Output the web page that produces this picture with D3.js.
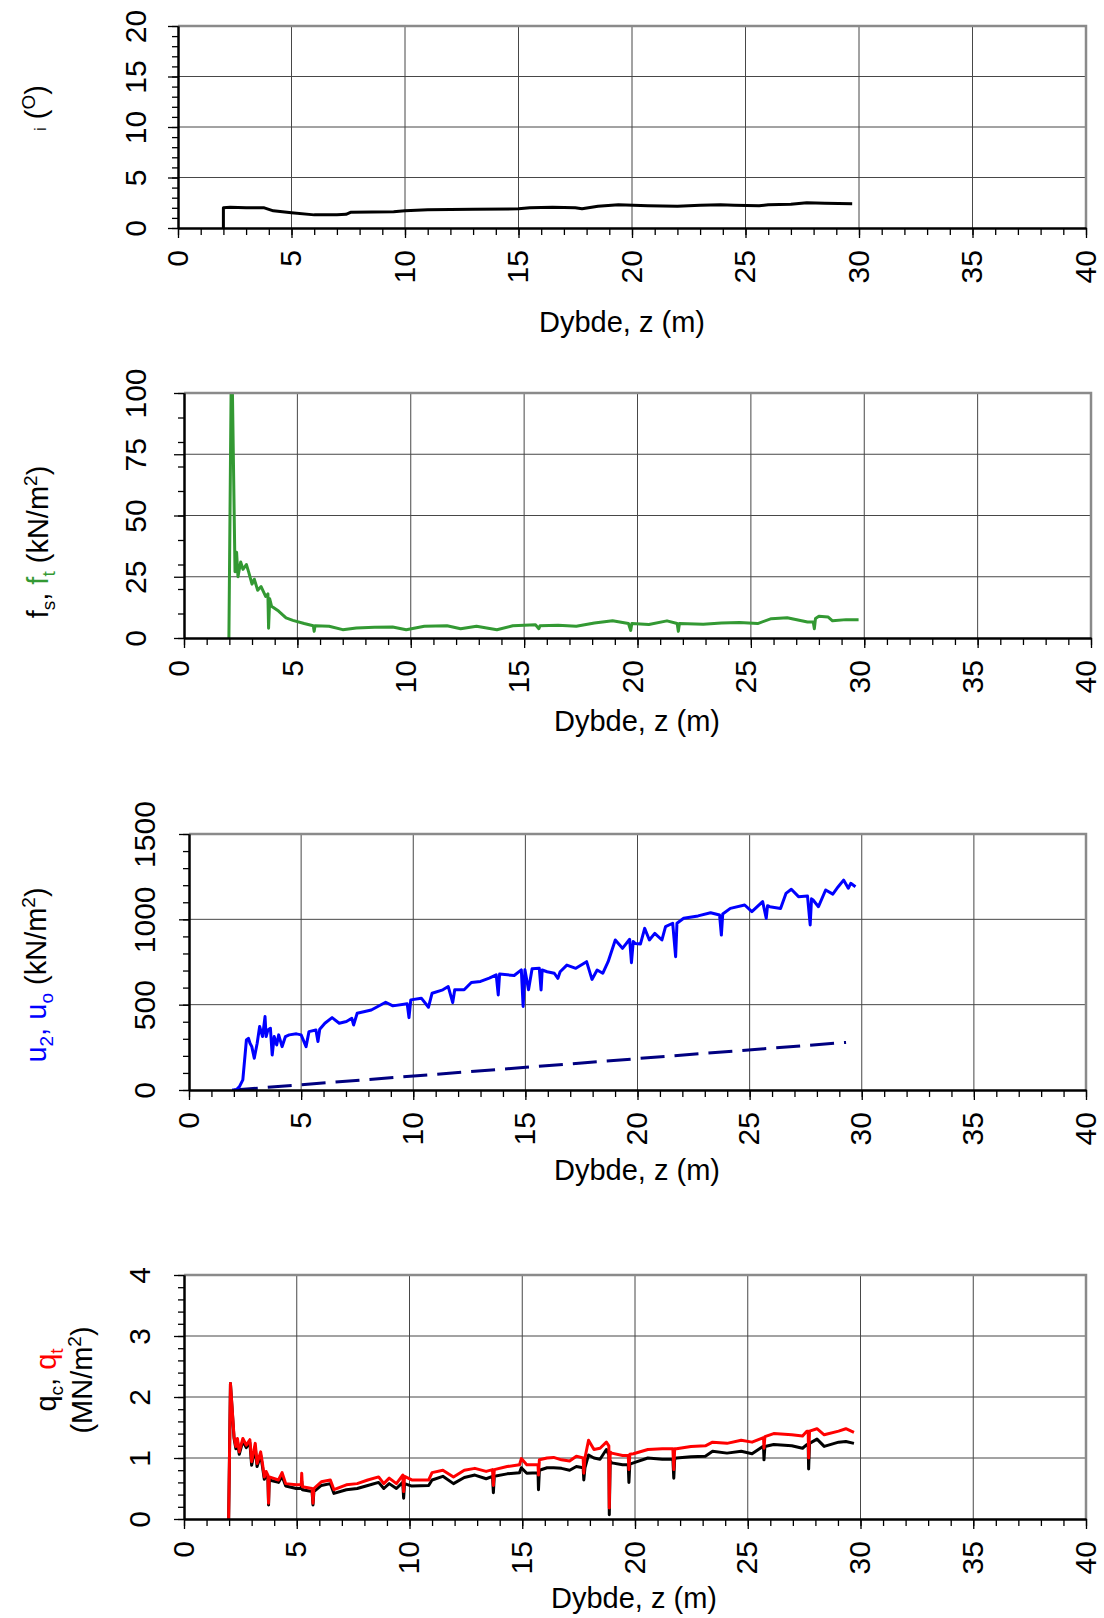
<!DOCTYPE html>
<meta charset="utf-8">
<html>
<script src="https://d3js.org/d3.v7.min.js"></script>
<style>
  body { margin: 0; background: #fff; }
  svg text { font-family: "Liberation Sans", Arial, sans-serif; fill: #000; }
</style>
<body>
<svg id="cpt" width="1104" height="1618"></svg>

<script>
const depthMajor = [0, 5, 10, 15, 20, 25, 30, 35, 40];
const depthMinor = d3.range(0, 41, 1);

// inclination i (deg)
const incDepth = [2.0, 2.0, 2.3, 3.0, 3.8, 4.2, 5.0, 6.0, 7.0, 7.4, 7.6, 9.5, 10.0, 11.0, 13.0, 15.0, 15.5, 16.5, 17.5, 17.8, 18.5, 19.4, 20.7, 22.0, 23.0, 23.9, 24.5, 25.6, 26.0, 27.0, 27.7, 28.5, 29.7];
const incVal   = [0, 2.0, 2.05, 2.0, 2.0, 1.7, 1.5, 1.3, 1.3, 1.35, 1.55, 1.6, 1.7, 1.8, 1.85, 1.9, 2.0, 2.05, 2.0, 1.9, 2.15, 2.3, 2.2, 2.15, 2.25, 2.3, 2.25, 2.2, 2.3, 2.35, 2.5, 2.45, 2.4];

// sleeve friction ft (kN/m2)
const ftDepth = [1.98, 2.08, 2.13, 2.25, 2.32, 2.38, 2.5, 2.6, 2.75, 2.85, 3.0, 3.1, 3.25, 3.4, 3.6, 3.7, 3.73, 3.78, 3.86, 4.17, 4.5, 4.8, 5.3, 5.7, 5.74, 5.78, 6.4, 7.0, 7.6, 8.4, 9.2, 9.8, 10.6, 11.6, 12.2, 12.9, 13.8, 14.5, 15.5, 15.65, 15.7, 16.5, 17.3, 18.1, 18.9, 19.6, 19.7, 19.75, 20.5, 21.3, 21.75, 21.8, 21.85, 22.9, 23.7, 24.5, 25.3, 25.9, 26.6, 27.5, 27.75, 27.8, 27.85, 28.0, 28.4, 28.6, 29.2, 29.75];
const ftVal   = [0, 104, 104, 27, 35, 25, 31, 28, 30, 27, 22, 24, 19.5, 21, 17, 18, 4, 16, 13, 11, 8.2, 7.2, 5.9, 5, 2.7, 5, 4.8, 3.4, 4.1, 4.4, 4.5, 3.4, 4.8, 5, 3.8, 4.8, 3.4, 5, 5.4, 3.8, 5, 5.2, 4.8, 6.1, 7.0, 5.9, 3.1, 5.9, 5.5, 7.0, 5.9, 2.7, 5.9, 5.6, 6.1, 6.3, 5.9, 7.9, 8.3, 6.5, 6.5, 3.8, 8, 8.9, 8.6, 7.0, 7.5, 7.5];

// pore pressure u2 (kN/m2)
const u2Depth = [1.92, 2.1, 2.25, 2.40, 2.56, 2.65, 2.72, 2.8, 2.91, 3.04, 3.15, 3.28, 3.39, 3.44, 3.52, 3.63, 3.71, 3.80, 3.91, 4.0, 4.15, 4.3, 4.47, 4.79, 5.0, 5.22, 5.35, 5.66, 5.75, 5.83, 6.06, 6.38, 6.70, 7.02, 7.26, 7.34, 7.50, 8.13, 8.77, 9.09, 9.73, 9.81, 9.89, 10.36, 10.68, 10.84, 11.32, 11.56, 11.76, 11.85, 12.27, 12.59, 13.0, 13.39, 13.7, 13.79, 13.85, 14.50, 14.82, 14.90, 14.98, 15.14, 15.3, 15.62, 15.70, 15.75, 15.97, 16.29, 16.45, 16.55, 16.85, 17.25, 17.73, 17.97, 18.2, 18.45, 18.69, 19.01, 19.33, 19.65, 19.73, 19.81, 19.89, 20.13, 20.32, 20.53, 20.77, 21.09, 21.25, 21.57, 21.70, 21.76, 22.06, 22.70, 23.26, 23.66, 23.74, 23.8, 24.14, 24.78, 25.10, 25.58, 25.74, 25.80, 25.90, 26.38, 26.62, 26.86, 27.18, 27.58, 27.70, 27.76, 27.83, 28.07, 28.39, 28.71, 28.95, 29.19, 29.40, 29.51, 29.72];
const u2Val   = [0, 0, 20, 59, 293, 303, 274, 254, 186, 274, 372, 313, 430, 313, 352, 362, 205, 313, 264, 323, 254, 313, 323, 329, 323, 254, 342, 352, 284, 356, 391, 424, 391, 401, 420, 381, 450, 469, 514, 493, 505, 424, 528, 538, 485, 567, 587, 606, 512, 587, 587, 630, 636, 655, 675, 557, 679, 671, 704, 489, 704, 587, 710, 714, 586, 703, 693, 684, 654, 693, 732, 713, 752, 648, 703, 684, 752, 879, 830, 883, 746, 870, 859, 855, 947, 879, 918, 879, 957, 977, 781, 977, 1006, 1020, 1039, 1025, 908, 1031, 1064, 1084, 1045, 1104, 1006, 1080, 1074, 1064, 1152, 1176, 1133, 1137, 967, 1120, 1113, 1074, 1172, 1148, 1191, 1230, 1182, 1211, 1191];

// hydrostatic u0 (kN/m2)
const u0Depth = [2.0, 29.3];
const u0Val   = [0, 279];

// cone resistance qt / qc (MN/m2)
const qDepth = [1.98, 2.06, 2.22, 2.3, 2.37, 2.45, 2.61, 2.76, 2.92, 3.0, 3.16, 3.24, 3.40, 3.48, 3.56, 3.64, 3.72, 3.75, 3.78, 4.19, 4.35, 4.51, 4.98, 5.2, 5.22, 5.25, 5.68, 5.72, 5.76, 6.09, 6.49, 6.65, 7.2, 7.68, 8.15, 8.63, 8.86, 9.1, 9.42, 9.7, 9.74, 9.78, 10.1, 10.85, 11.0, 11.48, 11.95, 12.43, 12.9, 13.4, 13.68, 13.72, 13.76, 14.33, 14.88, 14.96, 15.2, 15.7, 15.72, 15.76, 16.1, 16.39, 16.74, 17.1, 17.4, 17.7, 17.73, 17.78, 17.94, 18.18, 18.45, 18.73, 18.84, 18.86, 18.9, 18.97, 19.45, 19.7, 19.73, 19.77, 19.93, 20.57, 21.21, 21.68, 21.72, 21.76, 21.84, 22.48, 23.12, 23.44, 24.08, 24.71, 25.19, 25.67, 25.70, 25.72, 25.76, 26.15, 26.95, 27.43, 27.62, 27.68, 27.70, 27.74, 28.07, 28.39, 29.03, 29.35, 29.71];
const qtVal = [0, 2.22, 1.35, 1.19, 1.32, 1.10, 1.32, 1.21, 1.30, 0.94, 1.24, 0.91, 1.10, 0.91, 0.69, 0.78, 0.72, 0.26, 0.69, 0.64, 0.76, 0.58, 0.56, 0.56, 0.75, 0.53, 0.50, 0.26, 0.50, 0.61, 0.64, 0.48, 0.56, 0.58, 0.64, 0.69, 0.58, 0.67, 0.58, 0.72, 0.45, 0.70, 0.64, 0.64, 0.76, 0.80, 0.69, 0.80, 0.83, 0.78, 0.81, 0.55, 0.81, 0.86, 0.89, 0.99, 0.89, 0.89, 0.72, 0.97, 1.0, 1.01, 0.97, 0.95, 1.03, 1.0, 0.75, 1.0, 1.29, 1.14, 1.16, 1.26, 1.2, 0.18, 1.1, 1.08, 1.04, 1.04, 0.81, 1.06, 1.07, 1.14, 1.15, 1.15, 0.81, 1.15, 1.15, 1.19, 1.20, 1.26, 1.24, 1.29, 1.26, 1.33, 1.33, 1.16, 1.35, 1.40, 1.38, 1.36, 1.44, 1.44, 1.0, 1.44, 1.48, 1.38, 1.44, 1.48, 1.42];
const qcVal = [0, 2.22, 1.32, 1.15, 1.28, 1.06, 1.28, 1.17, 1.25, 0.88, 1.18, 0.86, 1.05, 0.86, 0.65, 0.72, 0.66, 0.23, 0.64, 0.60, 0.70, 0.54, 0.50, 0.50, 0.62, 0.48, 0.45, 0.23, 0.45, 0.55, 0.58, 0.42, 0.48, 0.50, 0.55, 0.60, 0.50, 0.58, 0.50, 0.60, 0.34, 0.58, 0.54, 0.55, 0.64, 0.70, 0.58, 0.68, 0.72, 0.66, 0.70, 0.43, 0.70, 0.74, 0.76, 0.84, 0.75, 0.76, 0.48, 0.80, 0.84, 0.84, 0.83, 0.80, 0.86, 0.84, 0.64, 0.84, 1.05, 1.0, 0.98, 1.14, 1.05, 0.07, 0.95, 0.92, 0.89, 0.89, 0.60, 0.90, 0.92, 1.0, 0.98, 0.98, 0.67, 0.99, 1.0, 1.02, 1.03, 1.11, 1.08, 1.11, 1.07, 1.19, 1.19, 0.97, 1.19, 1.22, 1.20, 1.16, 1.22, 1.22, 0.82, 1.24, 1.31, 1.19, 1.26, 1.27, 1.24];

// ---------------- drawing ----------------
const svg = d3.select("#cpt");
const zip = (xs, ys) => xs.map((d, i) => [d, ys[i]]);

function drawPanel(p) {
    const x = d3.scaleLinear().domain([0, 40]).range([p.left, p.right]);
    const y = d3.scaleLinear().domain([0, p.yMax]).range([p.bottom, p.top]);
    const g = svg.append("g");

    // grid
    g.selectAll(".vgrid").data(depthMajor.slice(1, -1)).join("line")
        .attr("x1", d => x(d)).attr("x2", d => x(d))
        .attr("y1", p.top).attr("y2", p.bottom)
        .attr("stroke", "#474747").attr("stroke-width", 1);
    g.selectAll(".hgrid").data(p.yMajor.slice(1, -1)).join("line")
        .attr("x1", p.left).attr("x2", p.right)
        .attr("y1", d => y(d)).attr("y2", d => y(d))
        .attr("stroke", "#474747").attr("stroke-width", 1);

    // series, clipped to the plot box
    const clipId = "clip" + p.id;
    svg.append("clipPath").attr("id", clipId)
        .append("rect").attr("x", p.left).attr("y", p.top)
        .attr("width", p.right - p.left).attr("height", p.bottom - p.top);
    const line = d3.line().x(d => x(d[0])).y(d => y(d[1]));
    p.series.forEach(s => {
        g.append("path")
            .attr("d", line(s.data))
            .attr("fill", "none")
            .attr("stroke", s.color)
            .attr("stroke-width", s.width || 3)
            .attr("stroke-linejoin", "round")
            .attr("stroke-dasharray", s.dash || null)
            .attr("clip-path", `url(#${clipId})`);
    });

    // top / right frame (gray)
    g.append("path")
        .attr("d", `M${p.left},${p.top}H${p.right}V${p.bottom}`)
        .attr("fill", "none").attr("stroke", "#8a8a8a").attr("stroke-width", 2.5);

    // x axis
    const xMinor = g.append("g").attr("transform", `translate(0,${p.bottom})`)
        .call(d3.axisBottom(x).tickValues(depthMinor).tickSize(7).tickSizeOuter(0).tickFormat(""));
    const xMajor = g.append("g").attr("transform", `translate(0,${p.bottom})`)
        .call(d3.axisBottom(x).tickValues(depthMajor).tickSize(10).tickSizeOuter(0).tickFormat(d => d));
    xMajor.selectAll("text")
        .attr("y", null).attr("dy", p.xLabelDy || "0.3em")
        .attr("text-anchor", "end")
        .attr("transform", "translate(0,22) rotate(-90)")
        .style("font-size", "30px");

    // y axis
    const yMinor = g.append("g").attr("transform", `translate(${p.left},0)`)
        .call(d3.axisLeft(y).tickValues(p.yMinor).tickSize(6).tickSizeOuter(0).tickFormat(""));
    const yMajor = g.append("g").attr("transform", `translate(${p.left},0)`)
        .call(d3.axisLeft(y).tickValues(p.yMajor).tickSize(10).tickSizeOuter(0).tickFormat(d => d));
    yMajor.selectAll("text")
        .attr("x", null).attr("dy", null)
        .attr("text-anchor", "middle")
        .attr("transform", `translate(${p.yLabelX - p.left},0) rotate(-90)`)
        .style("font-size", "30px");

    [xMinor, xMajor, yMinor, yMajor].forEach(a => {
        a.selectAll("line").attr("stroke", "#000").attr("stroke-width", 1.3);
        a.select(".domain").attr("stroke", "#000").attr("stroke-width", 2);
        a.attr("font-family", null);
    });

    // x title
    g.append("text")
        .attr("x", p.titleX).attr("y", p.titleY)
        .attr("text-anchor", "middle")
        .style("font-size", "29px")
        .text("Dybde, z (m)");

    // y title (rotated)
    const t = g.append("g").attr("transform", `translate(${p.yTitle[0]},${p.yTitle[1]}) rotate(-90)`);
    p.drawTitle(t);
}

function titleText(sel, parts, dy0) {
    const txt = sel.append("text").attr("text-anchor", "middle").attr("y", dy0 || 0).style("font-size", "29px");
    let shift = 0;
    parts.forEach(pt => {
        const ts = txt.append("tspan").text(pt.t).attr("fill", pt.c || "#000").style("fill", pt.c || "#000");
        const want = pt.sub ? 7 : pt.sup ? -11 : 0;
        if (want !== shift) { ts.attr("dy", want - shift); shift = want; }
        if (pt.sub || pt.sup) ts.style("font-size", "19px");
        if (pt.small) ts.style("font-size", "17px");
    });
    return txt;
}

drawPanel({
    id: 1, left: 178, right: 1086, top: 26, bottom: 228,
    yMax: 20, yMajor: [0, 5, 10, 15, 20], yMinor: d3.range(0, 21, 1), yLabelX: 146,
    titleX: 622, titleY: 332,
    yTitle: [46, 108],
    drawTitle: g => titleText(g, [{t: "i", small: true}, {t: " ("}, {t: "O", sup: true}, {t: ")"}]),
    series: [{data: zip(incDepth, incVal), color: "#000"}]
});

drawPanel({
    id: 2, left: 184, right: 1091, top: 393, bottom: 638,
    yMax: 100, yMajor: [0, 25, 50, 75, 100], yMinor: d3.range(0, 101, 10), yLabelX: 146,
    titleX: 637, titleY: 731, xLabelDy: "0.16em",
    yTitle: [48, 542],
    drawTitle: g => titleText(g, [{t: "f"}, {t: "s", sub: true}, {t: ", "}, {t: "f", c: "#339933"}, {t: "t", sub: true, c: "#339933"}, {t: "  (kN/m"}, {t: "2", sup: true}, {t: ")"}]),
    series: [{data: zip(ftDepth, ftVal), color: "#339933"}]
});

drawPanel({
    id: 3, left: 189, right: 1086, top: 834, bottom: 1090,
    yMax: 1500, yMajor: [0, 500, 1000, 1500], yMinor: d3.range(0, 1501, 100), yLabelX: 155,
    titleX: 637, titleY: 1180,
    yTitle: [46, 975],
    drawTitle: g => titleText(g, [{t: "u", c: "#0000ff"}, {t: "2", sub: true, c: "#0000ff"}, {t: ", ", c: "#0000ff"}, {t: "u", c: "#0000ff"}, {t: "o", sub: true, c: "#0000ff"}, {t: " (kN/m"}, {t: "2", sup: true}, {t: ")"}]),
    series: [
        {data: zip(u0Depth, u0Val), color: "#000080", dash: "24,10", width: 3},
        {data: zip(u2Depth, u2Val), color: "#0000ff"}
    ]
});

drawPanel({
    id: 4, left: 184, right: 1086, top: 1275, bottom: 1519,
    yMax: 4, yMajor: [0, 1, 2, 3, 4], yMinor: d3.range(0, 21, 1).map(d => d / 5), yLabelX: 150,
    titleX: 634, titleY: 1608,
    yTitle: [56, 1380],
    drawTitle: g => {
        titleText(g, [{t: "q"}, {t: "c", sub: true}, {t: ", "}, {t: "q", c: "#ff0000"}, {t: "t", sub: true, c: "#ff0000"}]);
        titleText(g, [{t: "(MN/m"}, {t: "2", sup: true}, {t: ")"}], 36);
    },
    series: [
        {data: zip(qDepth, qcVal), color: "#000"},
        {data: zip(qDepth, qtVal), color: "#ff0000"}
    ]
});
</script>
</body>
</html>
